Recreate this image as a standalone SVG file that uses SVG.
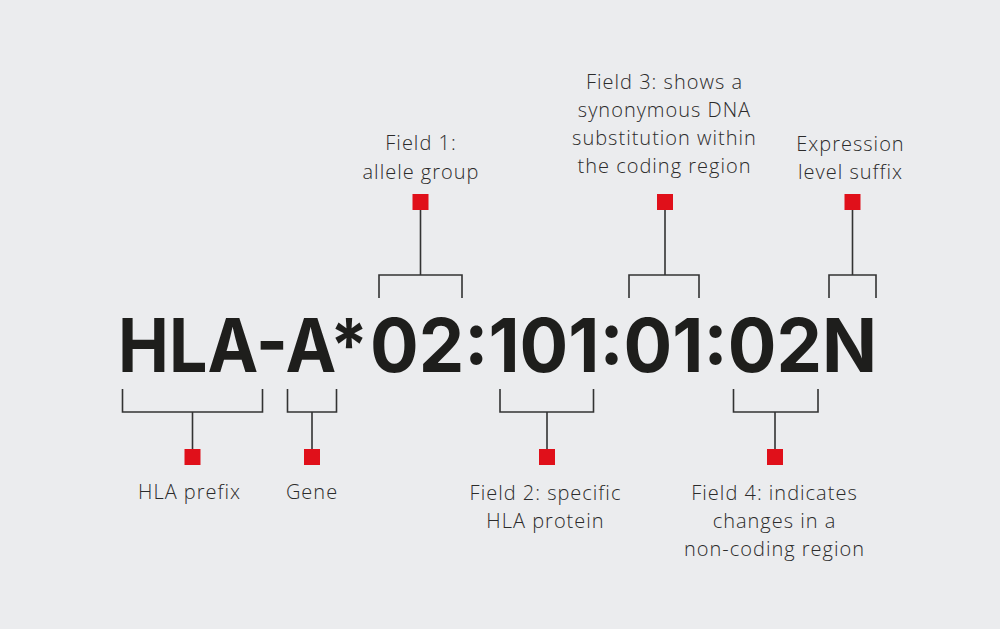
<svg xmlns="http://www.w3.org/2000/svg" width="1000" height="629" viewBox="0 0 1000 629">
<style>
.bg{fill:#EBECEE}
.code{font-family:Inter,"Liberation Sans",sans-serif;font-weight:700;font-size:74px;fill:#1e1e1c}
.lbl{font-family:"Open Sans","Noto Sans",sans-serif;font-weight:300;font-size:20px;letter-spacing:1px;fill:#2b2b2b;text-anchor:middle}
.br{fill:none;stroke:#333333;stroke-width:1.6}
.sq{fill:#E0101A}
</style>
<rect class="bg" x="0" y="0" width="1000" height="629"/>
<g id="code">
<text class="code" x="118" y="372" textLength="250" lengthAdjust="spacingAndGlyphs">HLA-A*</text>
<text class="code" x="370" y="372" textLength="507" lengthAdjust="spacingAndGlyphs">02:101:01:02N</text>
</g>
<g id="connectors">
<path class="br" d="M379,298 V275 H462 V298 M420.5,275 V210"/>
<path class="br" d="M629,298 V275 H699 V298 M665,275 V210"/>
<path class="br" d="M829,298 V275 H876 V298 M852.5,275 V210"/>
<path class="br" d="M122.5,389 V412 H262.5 V389 M192.5,412 V449"/>
<path class="br" d="M287.5,389 V412 H336.5 V389 M312,412 V449"/>
<path class="br" d="M500,389 V412 H593.5 V389 M547,412 V449"/>
<path class="br" d="M733.5,389 V412 H818 V389 M775,412 V449"/>
</g>
<g id="field1">
<rect class="sq" x="412.5" y="194" width="16" height="16"/>
<text class="lbl" x="421" y="150">Field 1:</text>
<text class="lbl" x="421" y="179">allele group</text>
</g>
<g id="field3">
<rect class="sq" x="657" y="194" width="16" height="16"/>
<text class="lbl" x="664.5" y="89">Field 3: shows a</text>
<text class="lbl" x="664.5" y="117">synonymous DNA</text>
<text class="lbl" x="664.5" y="145">substitution within</text>
<text class="lbl" x="664.5" y="173">the coding region</text>
</g>
<g id="expression">
<rect class="sq" x="844.5" y="194" width="16" height="16"/>
<text class="lbl" x="850.5" y="151">Expression</text>
<text class="lbl" x="850.5" y="179">level suffix</text>
</g>
<g id="prefix">
<rect class="sq" x="184.5" y="449" width="16" height="16"/>
<text class="lbl" x="189.5" y="499">HLA prefix</text>
</g>
<g id="gene">
<rect class="sq" x="304" y="449" width="16" height="16"/>
<text class="lbl" x="312" y="499">Gene</text>
</g>
<g id="field2">
<rect class="sq" x="539" y="449" width="16" height="16"/>
<text class="lbl" x="545.5" y="500">Field 2: specific</text>
<text class="lbl" x="545.5" y="528">HLA protein</text>
</g>
<g id="field4">
<rect class="sq" x="767" y="449" width="16" height="16"/>
<text class="lbl" x="774.5" y="500">Field 4: indicates</text>
<text class="lbl" x="774.5" y="528">changes in a</text>
<text class="lbl" x="774.5" y="556">non-coding region</text>
</g>
</svg>
